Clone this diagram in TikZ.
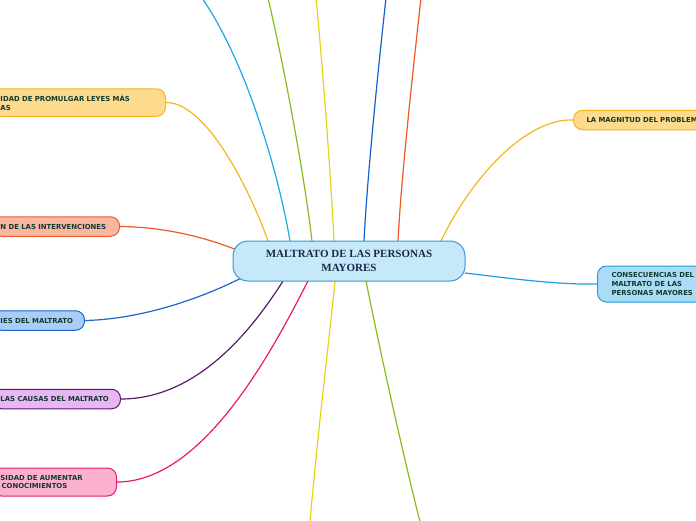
\documentclass[tikz,border=0pt]{standalone}
\usepackage{fontspec}
\setmainfont{Liberation Serif}
\newfontfamily\branchfont{DejaVu Sans}
\usetikzlibrary{backgrounds}
\definecolor{txtdark}{RGB}{18,58,46}
\definecolor{ctrtxt}{RGB}{27,40,74}
\definecolor{ctrfill}{RGB}{198,233,250}
\definecolor{ctrdraw}{RGB}{58,150,212}
\definecolor{ylwfill}{RGB}{253,218,140}
\definecolor{ylwdraw}{RGB}{246,181,30}
\definecolor{salfill}{RGB}{249,183,160}
\definecolor{saldraw}{RGB}{240,88,40}
\definecolor{blufill}{RGB}{170,205,247}
\definecolor{bludraw}{RGB}{30,100,204}
\definecolor{purfill}{RGB}{232,182,245}
\definecolor{purdraw}{RGB}{90,26,106}
\definecolor{pnkfill}{RGB}{251,176,208}
\definecolor{pnkdraw}{RGB}{232,25,110}
\definecolor{cynfill}{RGB}{170,220,245}
\definecolor{cyndraw}{RGB}{26,160,224}
\definecolor{lcyan}{RGB}{27,168,230}
\definecolor{lgreen}{RGB}{134,189,28}
\definecolor{lyellow}{RGB}{230,212,26}
\definecolor{lblue}{RGB}{21,96,208}
\definecolor{lorange}{RGB}{240,88,42}
\tikzset{
  branch/.style={draw, line width=1pt, rounded corners=9pt, inner xsep=8pt, inner ysep=3pt,
    align=left, font=\branchfont\bfseries\fontsize{6.9}{8.8}\selectfont, text=txtdark},
  center/.style={draw=ctrdraw, fill=ctrfill, line width=1pt, rounded corners=15pt,
    minimum width=232pt, minimum height=40pt, align=center,
    font=\bfseries\fontsize{11}{14.5}\selectfont, text=ctrtxt},
  conn/.style={line width=1.2pt}
}
\begin{document}
\begin{tikzpicture}[x=1pt,y=-1pt]
\clip (0,0) rectangle (696,520);

\node[center] (c) at (349,261) {MALTRATO DE LAS PERSONAS\\MAYORES};

\node[branch, draw=ylwdraw, fill=ylwfill, anchor=east, text width=157pt, minimum height=27.5pt] (n1) at (166,102.5) {IDAD DE PROMULGAR LEYES MÁS\\AS};
\node[branch, draw=saldraw, fill=salfill, anchor=east, text width=111pt, minimum height=19.5pt] (n2) at (120,226.5) {N DE LAS INTERVENCIONES};
\node[branch, draw=bludraw, fill=blufill, anchor=east, text width=76pt, minimum height=19.5pt] (n3) at (85,320.5) {IES DEL MALTRATO};
\node[branch, draw=purdraw, fill=purfill, anchor=east, text width=112pt, minimum height=19.5pt] (n4) at (121,399) {LAS CAUSAS DEL MALTRATO};
\node[branch, draw=pnkdraw, fill=pnkfill, anchor=east, text width=108pt, minimum height=28pt] (n5) at (117,482) {SIDAD DE AUMENTAR\\\,CONOCIMIENTOS};

\node[branch, draw=ylwdraw, fill=ylwfill, anchor=west, inner xsep=13pt, text width=140pt, minimum height=19.5pt] (n6) at (573,120) {LA MAGNITUD DEL PROBLEM};
\node[branch, draw=cyndraw, fill=cynfill, anchor=west, inner xsep=14pt, text width=120pt, minimum height=36pt] (n7) at (597,284) {CONSECUENCIAS DEL\\MALTRATO DE LAS\\PERSONAS MAYORES};

\coordinate (e1) at (268,241);
\coordinate (e2) at (237,250);
\coordinate (e3) at (245,276);
\coordinate (e4) at (283,281);
\coordinate (e5) at (308,281);
\coordinate (e6) at (441,241);
\coordinate (e7) at (465,273);
\coordinate (t1) at (290,241);
\coordinate (t2) at (312,241);
\coordinate (t3) at (334,241);
\coordinate (t4) at (364,241);
\coordinate (t5) at (398,241);
\coordinate (b1) at (335,281);
\coordinate (b2) at (366,281);
\coordinate (f1) at (202,-2);
\coordinate (f2) at (268,-2);
\coordinate (f3) at (316,-2);
\coordinate (f4) at (386,-2);
\coordinate (f5) at (421,-2);
\coordinate (g1) at (310,522);
\coordinate (g2) at (420,522);

\begin{scope}[on background layer]
\draw[conn, ylwdraw] (n1.east) .. controls (205,102) and (248,185) .. (e1);
\draw[conn, saldraw] (n2.east) .. controls (170,227) and (212,240) .. (e2);
\draw[conn, bludraw] (n3.east) .. controls (150,319) and (215,292) .. (e3);
\draw[conn, purdraw] (n4.east) .. controls (200,399) and (255,325) .. (e4);
\draw[conn, pnkdraw] (n5.east) .. controls (205,482) and (275,345) .. (e5);
\draw[conn, ylwdraw] (n6.west) .. controls (525,118) and (470,180) .. (e6);
\draw[conn, cyndraw] (n7.west) .. controls (555,285) and (500,277) .. (e7);
\draw[conn, lcyan] (f1) .. controls (245,60) and (278,170) .. (t1);
\draw[conn, lgreen] (f2) .. controls (285,70) and (305,180) .. (t2);
\draw[conn, lyellow] (f3) .. controls (323,70) and (331,180) .. (t3);
\draw[conn, lblue] (f4) .. controls (378,70) and (367,180) .. (t4);
\draw[conn, lorange] (f5) .. controls (413,70) and (401,180) .. (t5);
\draw[conn, lyellow] (b1) .. controls (328,350) and (317,440) .. (g1);
\draw[conn, lgreen] (b2) .. controls (382,360) and (402,450) .. (g2);
\end{scope}
\end{tikzpicture}
\end{document}
